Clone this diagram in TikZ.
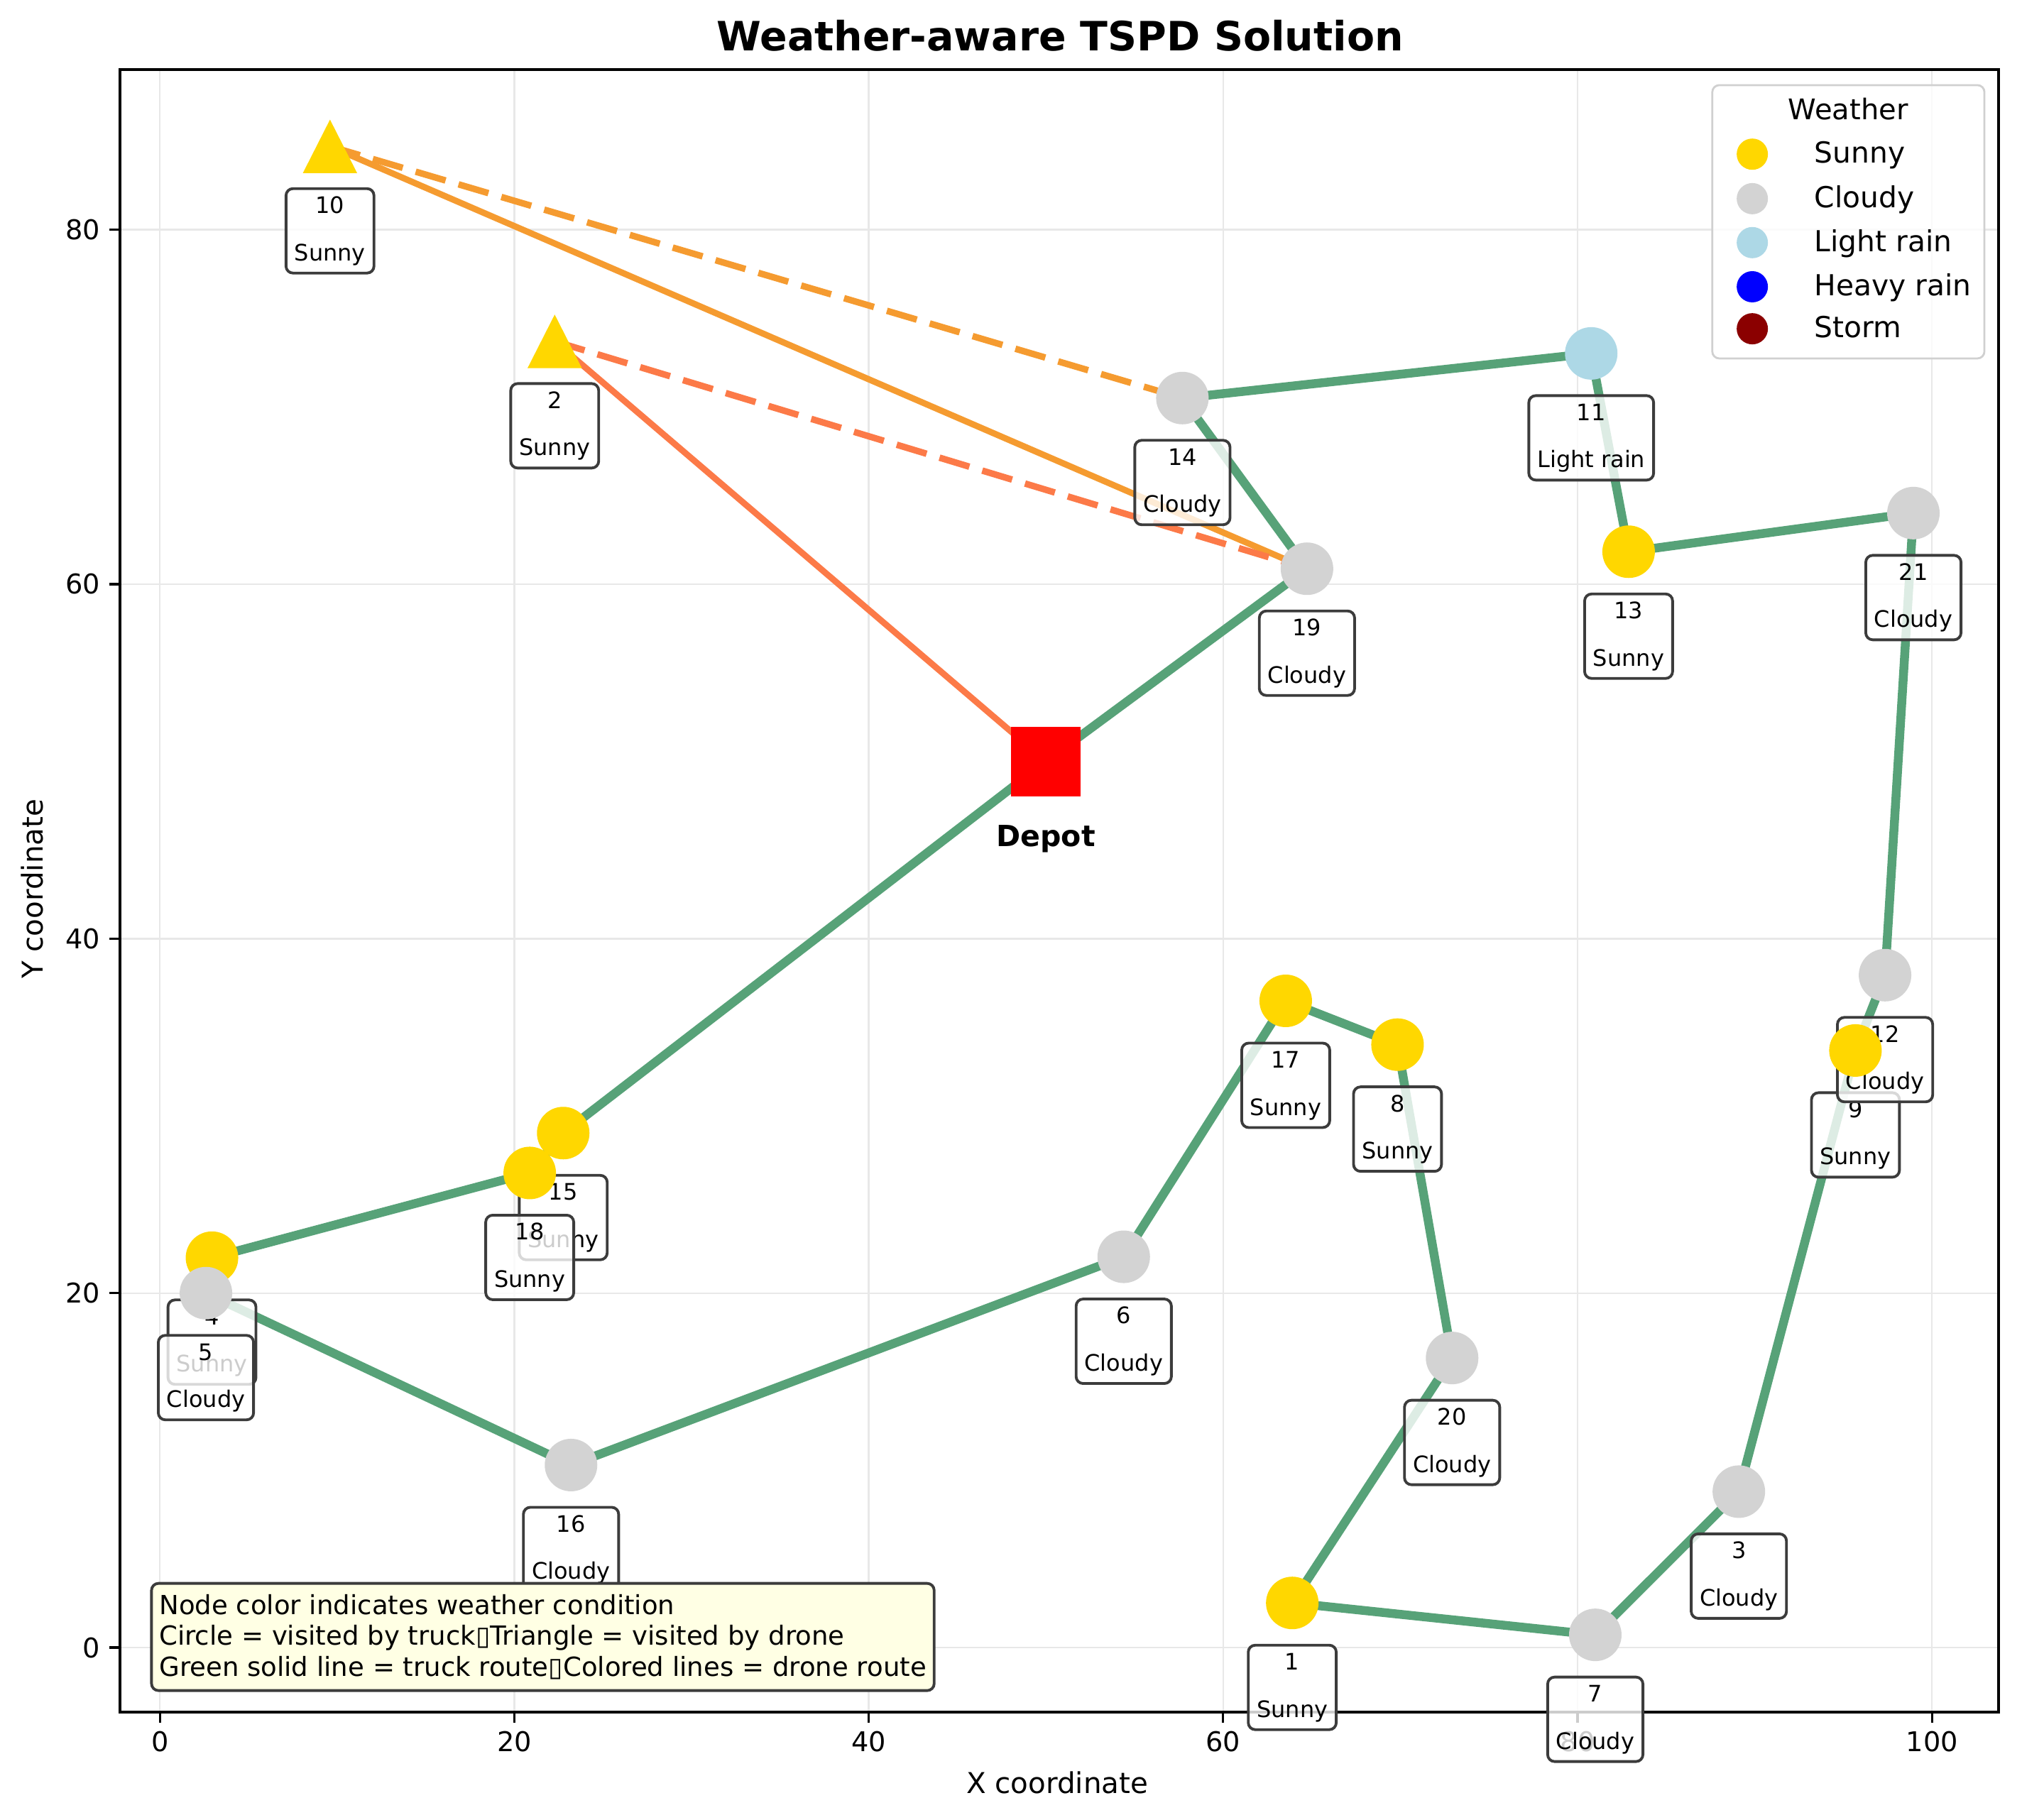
\documentclass[tikz,border=0pt]{standalone}
\usepackage{fontspec}
\setmainfont{DejaVu Sans}
\usetikzlibrary{calc}
\pgfdeclarelayer{gridlayer}
\pgfdeclarelayer{routelayer}
\pgfdeclarelayer{labellayer}
\pgfdeclarelayer{frontlayer}
\pgfsetlayers{gridlayer,routelayer,labellayer,main,frontlayer}
\definecolor{sunny}{HTML}{FFD700}
\definecolor{cloudy}{HTML}{D3D3D3}
\definecolor{lightrain}{HTML}{ADD8E6}
\definecolor{heavyrain}{HTML}{0000FF}
\definecolor{storm}{HTML}{8B0000}
\definecolor{truckgreen}{HTML}{57A278}
\definecolor{droneA}{HTML}{F59B30}
\definecolor{droneB}{HTML}{FC7A48}
\definecolor{gridgray}{HTML}{E8E8E8}
\definecolor{boxedge}{HTML}{3C3C3C}
\definecolor{infofill}{HTML}{FFFFE4}
\definecolor{legedge}{HTML}{D0D0D0}
\newcommand\lblfont{\fontsize{9.1}{10}\selectfont}
\newcommand\tickfont{\fontsize{10.9}{13}\selectfont}
\newcommand\ptlabel[2]{%
  \node[lblbox, yshift=-1.19cm] (b#1) at (n#1.center) {\phantom{#2}};
  \node[lbltext] (bn#1) at ([yshift=0.2465cm]b#1.center) {#1};
  \node[lbltext] (bw#1) at ([yshift=-0.42cm]b#1.center) {#2};
}
\tikzset{
  visit/.style={circle, inner sep=0pt, minimum size=0.74cm, fill=#1},
  dronevisit/.style={rectangle, inner sep=0pt, minimum width=0.765cm, minimum height=0.754cm,
    path picture={\fill[#1] (path picture bounding box.north) -- (path picture bounding box.south west) -- (path picture bounding box.south east) -- cycle;}},
  truck/.style={draw=truckgreen, line width=3.55pt},
  dronesolid/.style={draw=#1, line width=2.5pt},
  dronedash/.style={draw=#1, line width=2.6pt, dash pattern=on 12.5pt off 5.4pt},
  lblbox/.style={draw=boxedge, line width=1.1pt, rounded corners=2.8pt, fill=white, fill opacity=0.8,
    inner xsep=3.4pt, inner ysep=0pt, minimum height=1.19cm, font=\lblfont},
  lbltext/.style={inner sep=0pt, font=\lblfont, anchor=base},
  gridline/.style={draw=gridgray, line width=0.7pt},
  axisline/.style={draw=black, line width=0.95pt},
  ticklabel/.style={inner sep=0pt, font=\tickfont},
  legdot/.style={circle, inner sep=0pt, minimum size=0.44cm, fill=#1},
  legtext/.style={inner sep=0pt, font=\fontsize{11.6}{13}\selectfont, anchor=base west},
}
\begin{document}
\begin{tikzpicture}[x=0.2496cm, y=0.2497cm]
\useasboundingbox (-9.022,-9.724) rectangle (105.08,92.96);

% ---------- markers (main layer) ----------
\node[visit=sunny] (n1) at (63.9,2.52) {};
\node[dronevisit=sunny] (n2) at (22.28,73.7) {};
\node[visit=cloudy] (n3) at (89.1,8.8) {};
\node[visit=sunny] (n4) at (2.94,22.0) {};
\node[visit=cloudy] (n5) at (2.6,20.0) {};
\node[visit=cloudy] (n6) at (54.39,22.05) {};
\node[visit=cloudy] (n7) at (81.0,0.72) {};
\node[visit=sunny] (n8) at (69.84,34.02) {};
\node[visit=sunny] (n9) at (95.68,33.69) {};
\node[dronevisit=sunny] (n10) at (9.6,84.7) {};
\node[visit=lightrain] (n11) at (80.77,73.02) {};
\node[visit=cloudy] (n12) at (97.35,37.94) {};
\node[visit=sunny] (n13) at (82.88,61.83) {};
\node[visit=cloudy] (n14) at (57.7,70.5) {};
\node[visit=sunny] (n15) at (22.76,29.03) {};
\node[visit=cloudy] (n16) at (23.2,10.3) {};
\node[visit=sunny] (n17) at (63.53,36.49) {};
\node[visit=sunny] (n18) at (20.87,26.78) {};
\node[visit=cloudy] (n19) at (64.73,60.87) {};
\node[visit=cloudy] (n20) at (72.92,16.34) {};
\node[visit=cloudy] (n21) at (98.95,64.01) {};
\node[rectangle, fill=red, inner sep=0pt, minimum size=0.98cm] (depot) at (50,50) {};
\node[anchor=base, inner sep=0pt, font=\bfseries\fontsize{11.7}{13}\selectfont] (depotlbl) at (50,45.22) {Depot};

% ---------- grid ----------
\begin{pgfonlayer}{gridlayer}
\foreach \x in {0,20,...,100} \draw[gridline] (\x,-3.64) -- (\x,89.03);
\foreach \y in {0,20,...,80} \draw[gridline] (-2.25,\y) -- (103.76,\y);
\end{pgfonlayer}

% ---------- routes, frame, ticks ----------
\begin{pgfonlayer}{routelayer}
\foreach \a/\b in {depot/n19, n19/n14, n14/n11, n11/n13, n13/n21, n21/n12, n12/n9, n9/n3, n3/n7, n7/n1, n1/n20, n20/n8, n8/n17, n17/n6, n6/n16, n16/n5, n5/n4, n4/n18, n18/n15, n15/depot}
  \draw[truck] (\a.center) -- (\b.center);
\draw[dronesolid=droneA] (n10.center) -- (n19.center);
\draw[dronedash=droneA] (n10.center) -- (n14.center);
\draw[dronesolid=droneB] (depot.center) -- (n2.center);
\draw[dronedash=droneB] (n2.center) -- (n19.center);
\draw[axisline] (-2.25,-3.64) rectangle (103.76,89.03);
\foreach \x in {0,20,...,100} {
  \draw[axisline] (\x,-3.64) -- ++(0,-0.15cm);
  \node[ticklabel] at (\x,-5.29) {\x};
}
\foreach \y in {0,20,...,80} {
  \draw[axisline] (-2.25,\y) -- ++(-0.15cm,0);
  \node[ticklabel, anchor=east] at (-3.34,\y) {\y};
}
\end{pgfonlayer}

% ---------- labels ----------
\begin{pgfonlayer}{labellayer}
\ptlabel{1}{Sunny}
\ptlabel{2}{Sunny}
\ptlabel{3}{Cloudy}
\ptlabel{4}{Sunny}
\ptlabel{5}{Cloudy}
\ptlabel{6}{Cloudy}
\ptlabel{7}{Cloudy}
\ptlabel{8}{Sunny}
\ptlabel{9}{Sunny}
\ptlabel{10}{Sunny}
\ptlabel{11}{Light rain}
\ptlabel{12}{Cloudy}
\ptlabel{13}{Sunny}
\ptlabel{14}{Cloudy}
\ptlabel{15}{Sunny}
\ptlabel{16}{Cloudy}
\ptlabel{17}{Sunny}
\ptlabel{18}{Sunny}
\ptlabel{19}{Cloudy}
\ptlabel{20}{Cloudy}
\ptlabel{21}{Cloudy}
\end{pgfonlayer}

% ---------- front: legend, info, titles ----------
\begin{pgfonlayer}{frontlayer}
\node[draw=legedge, line width=0.8pt, rounded corners=2.8pt, fill=white, fill opacity=0.8,
  minimum width=3.833cm, minimum height=3.85cm, inner sep=0pt] (legend) at (95.28,80.445) {};
\node[anchor=base, inner sep=0pt, font=\fontsize{11.4}{13}\selectfont] (legtitle) at (95.27,86.22) {Weather};
\node[legdot=sunny] (ld1) at (89.86,84.26) {};
\node[legtext] (lt1) at (93.34,83.75) {Sunny};
\node[legdot=cloudy] (ld2) at (89.86,81.75) {};
\node[legtext] (lt2) at (93.34,81.24) {Cloudy};
\node[legdot=lightrain] (ld3) at (89.86,79.27) {};
\node[legtext] (lt3) at (93.34,78.76) {Light rain};
\node[legdot=heavyrain] (ld4) at (89.86,76.78) {};
\node[legtext] (lt4) at (93.34,76.27) {Heavy rain};
\node[legdot=storm] (ld5) at (89.86,74.41) {};
\node[legtext] (lt5) at (93.34,73.90) {Storm};

\node[anchor=west, draw=boxedge, line width=1.1pt, rounded corners=2.8pt, fill=infofill,
  inner xsep=3.1pt, inner ysep=0pt, minimum height=1.51cm, align=left,
  font=\fontsize{10.55}{12.32}\selectfont] (info) at (-0.55,0.60)
  {Node color indicates weather condition\\
   Circle = visited by truck▯Triangle = visited by drone\\
   Green solid line = truck route▯Colored lines = drone route};

\node[anchor=base, inner sep=0pt, font=\bfseries\fontsize{16.2}{19}\selectfont] (title) at (50.8,90.08) {Weather-aware TSPD Solution};
\node[inner sep=0pt, font=\fontsize{11.5}{13}\selectfont] (xlabel) at (50.64,-7.64) {X coordinate};
\node[inner sep=0pt, rotate=90, font=\fontsize{11.5}{13}\selectfont] (ylabel) at (-7.22,42.8) {Y coordinate};
\end{pgfonlayer}
\end{tikzpicture}
\end{document}
